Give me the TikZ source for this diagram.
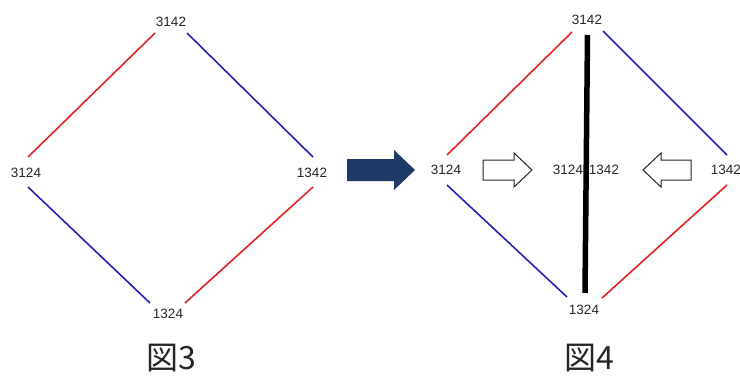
\documentclass[tikz,border=0pt]{standalone}
\usepackage{fontspec}
\setmainfont{Liberation Sans}
\newfontfamily\cjk{Noto Sans CJK JP}
\definecolor{lred}{HTML}{E02424}
\definecolor{lblue}{HTML}{2424B4}
\definecolor{navy}{HTML}{1F3A66}
\begin{document}
\begin{tikzpicture}[x=1pt,y=-1pt,
  lbl/.style={inner sep=0pt,font=\fontsize{13.5}{14}\selectfont,text=black!85},
  figcap/.style={inner sep=0pt,font=\cjk\fontsize{32}{34}\selectfont,text=black!85},
  rl/.style={draw=lred,line width=1.6pt},
  bl/.style={draw=lblue,line width=1.6pt},
  hollow/.style={draw=black!85,fill=white,line width=1pt,line join=miter}]
\useasboundingbox[fill=white] (0,0) rectangle (740,376);
% ---- left diagram (Fig 3)
\node[lbl] (L3142) at (171,22) {3142};
\node[lbl] (L3124) at (26,173) {3124};
\node[lbl] (L1342) at (312,173) {1342};
\node[lbl] (L1324) at (168,314) {1324};
\coordinate (La1) at (28,157); \coordinate (La2) at (155,33);
\coordinate (Lb1) at (187,33); \coordinate (Lb2) at (313,157);
\coordinate (Lc1) at (28,187); \coordinate (Lc2) at (150,303);
\coordinate (Ld1) at (185,303); \coordinate (Ld2) at (313,187);
\draw[rl] (La1) -- (La2);
\draw[bl] (Lb1) -- (Lb2);
\draw[bl] (Lc1) -- (Lc2);
\draw[rl] (Ld1) -- (Ld2);
\node[figcap] (F3) at (171,358) {図3};
% ---- big arrow
\fill[navy] (347,159) -- (394,159) -- (394,150) -- (415,170) -- (394,190) -- (394,181) -- (347,181) -- cycle;
% ---- right diagram (Fig 4)
\node[lbl] (R3142) at (587,20) {3142};
\node[lbl] (R3124) at (446,170) {3124};
\node[lbl,anchor=east] (R1342) at (741,170) {1342};
\node[lbl] (R1324) at (584,310) {1324};
\node[lbl] (M3124) at (568,170) {3124};
\node[lbl] (M1342) at (604,170) {1342};
\coordinate (Ra1) at (447,155); \coordinate (Ra2) at (572,32);
\coordinate (Rb1) at (603,31); \coordinate (Rb2) at (727,155);
\coordinate (Rc1) at (447,185); \coordinate (Rc2) at (567,297);
\coordinate (Rd1) at (602,298); \coordinate (Rd2) at (727,185);
\draw[rl] (Ra1) -- (Ra2);
\draw[bl] (Rb1) -- (Rb2);
\draw[bl] (Rc1) -- (Rc2);
\draw[rl] (Rd1) -- (Rd2);
\coordinate (Vt) at (587.5,35); \coordinate (Vb) at (585,293);
\draw[line width=5.5pt,black] (Vt) -- (Vb);
\draw[hollow] (483,160) -- (514,160) -- (514,153) -- (532,170) -- (514,187) -- (514,180) -- (483,180) -- cycle;
\draw[hollow] (691,160) -- (661,160) -- (661,153) -- (643,170) -- (661,187) -- (661,180) -- (691,180) -- cycle;
\node[figcap] (F4) at (589,358) {図4};
\end{tikzpicture}
\end{document}
